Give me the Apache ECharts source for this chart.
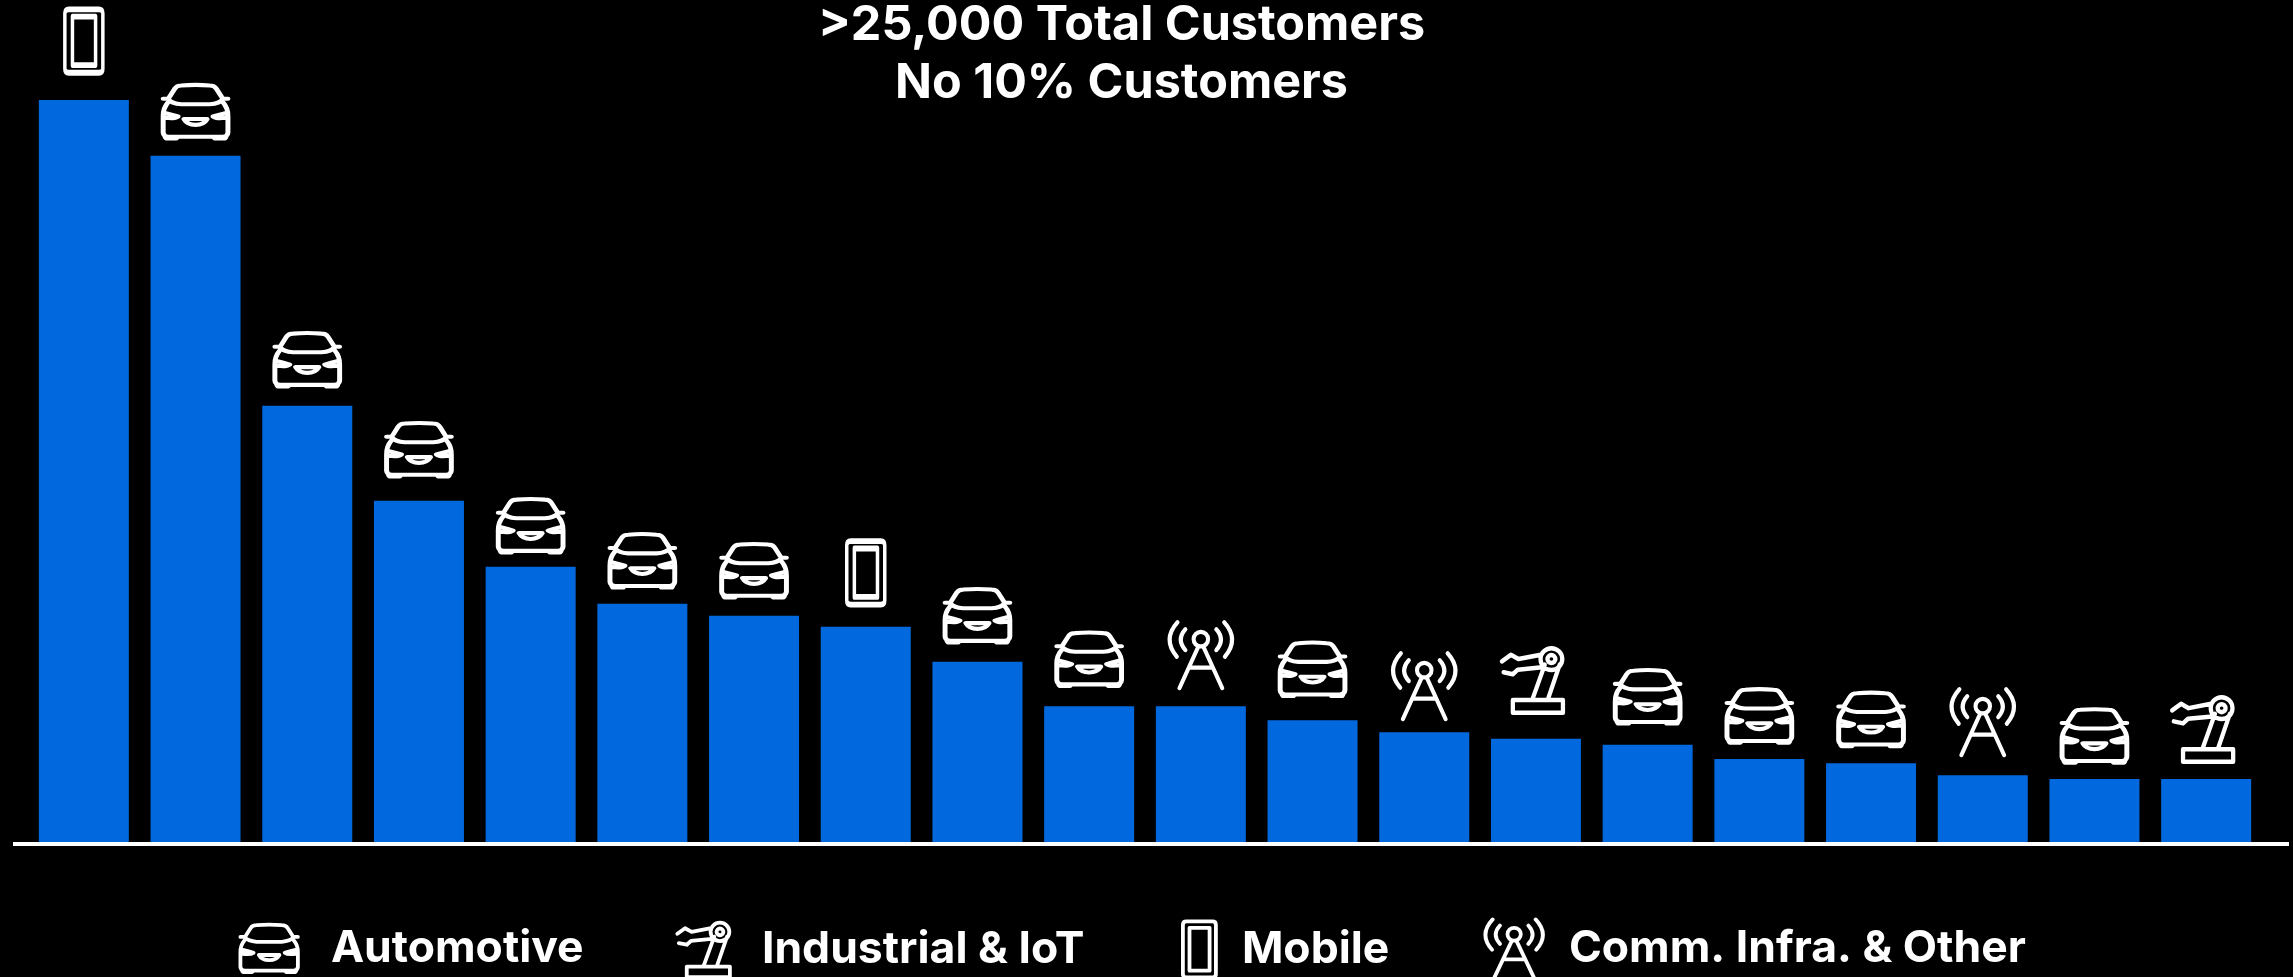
<!DOCTYPE html>
<html>
<head>
<meta charset="utf-8">
<title>Customers</title>
<script src="https://cdn.jsdelivr.net/npm/echarts@6/dist/echarts.min.js"></script>
<style>html,body{margin:0;padding:0;background:#000}#c{width:2293px;height:977px}</style>
</head>
<body>
<div id="c"></div>
<script>
// ---- data (values = % of the largest customer) ----
const customers = ['Customer 1','Customer 2','Customer 3','Customer 4','Customer 5','Customer 6','Customer 7','Customer 8','Customer 9','Customer 10','Customer 11','Customer 12','Customer 13','Customer 14','Customer 15','Customer 16','Customer 17','Customer 18','Customer 19','Customer 20'];
const revenueShare = [100, 92.5, 58.8, 46, 37.1, 32.1, 30.5, 29, 24.3, 18.3, 18.3, 16.4, 14.8, 13.9, 13.1, 11.2, 10.6, 9, 8.5, 8.5];
const segmentOf = ['Mobile','Automotive','Automotive','Automotive','Automotive','Automotive','Automotive','Mobile','Automotive','Automotive','Comm. Infra. & Other','Automotive','Comm. Infra. & Other','Industrial & IoT','Automotive','Automotive','Automotive','Comm. Infra. & Other','Automotive','Industrial & IoT'];
const segments = ['Automotive','Industrial & IoT','Mobile','Comm. Infra. & Other'];
const titleLines = ['>25,000 Total Customers','No 10% Customers'];

// ---- icon drawings ----
const CAR = 'path://M510 296L530 264Q536 254 550 254Q593 250 636 254Q650 254 656 264L676 296Q666 310 636 312L550 312Q520 310 510 296Z'
 + 'M495 295L510 295M676 295L691 295'
 + 'M510 306Q494 325 495 350L495 400Q496 412 510 413L676 413Q690 412 691 400L691 350Q692 325 676 306'
 + 'M501 414L504 418L535 418L538 414ZM648 414L651 418L682 418L685 414Z'
 + 'M503 340Q525 345 540 350Q530 358 503 354M683 340Q661 345 646 350Q656 358 683 354'
 + 'M558 358L628 358Q618 376 593 376Q568 376 558 358Z';
const ROBOT = 'path://M1243 302L1395 302L1395 340L1243 340Z'
 + 'M1303 298L1340 195M1350 298L1385 195'
 + 'M1393 178A33 33 0 1 1 1327 178A33 33 0 1 1 1393 178Z'
 + 'M1372 178A12 12 0 1 1 1348 178A12 12 0 1 1 1372 178Z'
 + 'M1328 165L1260 178L1237 165L1210 185M1332 203L1258 210L1243 224L1215 218';
const MOBILE = 'path://M205 30L296 30Q308 30 308 42L308 209Q308 221 296 221L205 221Q193 221 193 209L193 42Q193 30 205 30Z'
 + 'M216 52L286 52L286 198L216 198Z';
const TOWER = 'path://M325 117A22 22 0 1 1 281 117A22 22 0 1 1 325 117Z'
 + 'M296 138L238 265M310 138L368 265M268 203L338 203'
 + 'M256 87Q228 118 256 150M232 66Q185 118 230 170'
 + 'M350 87Q378 118 350 150M374 66Q421 118 376 170';

// ---- styling ----
const FONT = 'Inter';
const BLUE = '#0268de';
// clearance between each bar's top and the bottom of its icon
const iconClearance = [25, 15, 17, 22, 12, 14, 16, 20, 17, 18, 16, 22, 11, 24, 19, 14, 15, 18, 14, 15];
const iconStyle = {
  'Automotive':           {path: CAR,    size: [64.8, 53.5], stroke: 4.5, dx: 0,    legend: {left: 238.5, size: [57.5, 47.5], stroke: 3.8, pad: 28, cy: 946.5}},
  'Industrial & IoT':     {path: ROBOT,  size: [61, 64.5],   stroke: 4.4, dx: -3.5, legend: {left: 675.5, size: [52.5, 54.5], stroke: 3.8, pad: 27, cy: 948}},
  'Mobile':               {path: MOBILE, size: [38, 63.4],   stroke: 4.5, dx: 0,    legend: {left: 1181, size: [33, 56],      stroke: 3.8, pad: 21, cy: 947.5}},
  'Comm. Infra. & Other': {path: TOWER,  size: [62.5, 65.8], stroke: 4.2, dx: 0,    legend: {left: 1483.5, size: [57.5, 58],  stroke: 3.8, pad: 21, cy: 946.5}}
};

const iconSeries = segments.map(function (seg) {
  const s = iconStyle[seg];
  return {
    type: 'scatter', name: seg, xAxisIndex: 0, yAxisIndex: 0, z: 5,
    symbol: s.path, symbolSize: s.size, symbolKeepAspect: false,
    itemStyle: {color: 'transparent', borderColor: '#fff', borderWidth: s.stroke, borderCap: 'round', borderJoin: 'round', opacity: 1},
    emphasis: {disabled: true}, silent: true,
    data: revenueShare.map(function (v, i) {
      if (segmentOf[i] !== seg) return '-';
      return {value: v, symbolOffset: [s.dx, -(iconClearance[i] + s.size[1] / 2 + s.stroke / 2)]};
    })
  };
});

const legends = segments.map(function (seg) {
  const l = iconStyle[seg].legend;
  return {
    show: true, data: [{name: seg, icon: iconStyle[seg].path}], selectedMode: false,
    left: l.left, top: l.cy - l.size[1] / 2, padding: 0, orient: 'horizontal',
    itemWidth: l.size[0], itemHeight: l.size[1], symbolKeepAspect: false,
    itemStyle: {color: 'transparent', borderColor: '#fff', borderWidth: l.stroke, borderCap: 'round', borderJoin: 'round'},
    textStyle: {color: '#fff', fontFamily: FONT, fontWeight: 700, fontSize: 44.5, padding: [2, 0, 0, l.pad]}
  };
});

const chart = echarts.init(document.getElementById('c'), null, {renderer: 'canvas', width: 2293, height: 977});
chart.setOption({
  backgroundColor: '#000',
  animation: false,
  title: {
    text: titleLines.join('\n'), left: 1121.5, top: -4, textAlign: 'center', padding: 0,
    textStyle: {color: '#fff', fontFamily: FONT, fontWeight: 700, fontSize: 48.5, lineHeight: 58}
  },
  legend: legends,
  tooltip: {show: false},
  grid: [
    {left: 28, width: 2234, top: 100, height: 742},
    {left: 13, width: 2276, top: 100, height: 744}
  ],
  xAxis: [
    {type: 'category', gridIndex: 0, data: customers, axisLine: {show: false}, axisTick: {show: false}, axisLabel: {show: false}, splitLine: {show: false}},
    {type: 'value', gridIndex: 1, min: 0, max: 1, axisLine: {show: true, lineStyle: {color: '#fff', width: 4, cap: 'butt'}}, axisTick: {show: false}, axisLabel: {show: false}, splitLine: {show: false}}
  ],
  yAxis: [
    {type: 'value', gridIndex: 0, min: 0, max: 100, show: false},
    {type: 'value', gridIndex: 1, min: 0, max: 1, show: false}
  ],
  series: [
    {type: 'bar', name: 'Share', xAxisIndex: 0, yAxisIndex: 0, data: revenueShare, barWidth: 90, z: 3, silent: true, itemStyle: {color: BLUE}}
  ].concat(iconSeries)
});
</script>
</body>
</html>
